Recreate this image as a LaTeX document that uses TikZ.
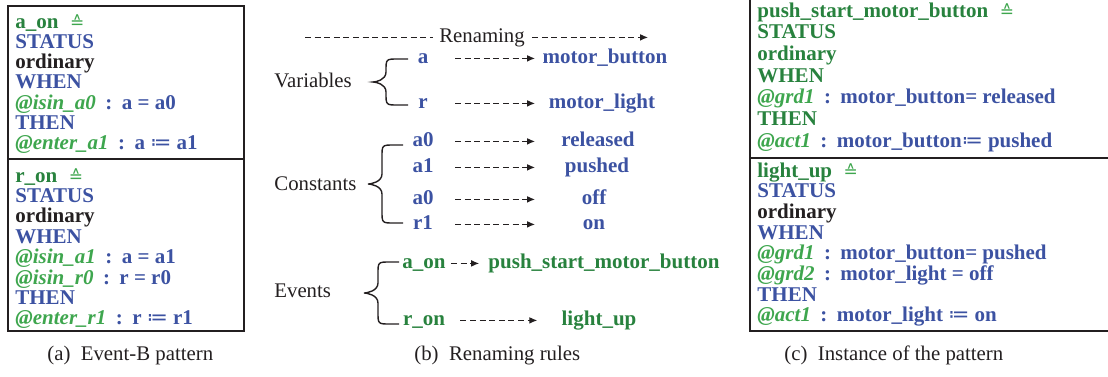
\documentclass[tikz,border=0pt]{standalone}
\usepackage{fontspec}
\setmainfont{Liberation Serif}
\newfontfamily\symfont{DejaVu Sans}
\usetikzlibrary{positioning,arrows.meta}

\definecolor{evgreen}{RGB}{40,130,62}
\definecolor{lblgreen}{RGB}{62,166,78}
\definecolor{kwblue}{RGB}{60,82,162}
\definecolor{inkblack}{RGB}{35,31,32}

\tikzset{BoxLine/.style={%
    draw=inkblack,%
    line width=0.8pt,%
}}
\tikzset{CodeLine/.style={%
    anchor=base west,%
    inner sep=0pt,%
    text=inkblack,%
    font=\fontsize{10.5}{12}\selectfont\bfseries,%
}}
\tikzset{VarName/.style={%
    anchor=base,%
    inner sep=0pt,%
    text=kwblue,%
    font=\fontsize{10.5}{12}\selectfont\bfseries,%
}}
\tikzset{EventName/.style={%
    VarName,%
    text=evgreen,%
}}
\tikzset{PlainText/.style={%
    inner sep=0pt,%
    text=inkblack,%
    font=\fontsize{10.4}{12}\selectfont,%
}}
\tikzset{RenameLine/.style={%
    draw=inkblack,%
    line width=0.5pt,%
    dash pattern=on 3pt off 1.8pt,%
}}
\tikzset{RenameArrow/.style={%
    RenameLine,%
    -{Latex[length=4pt,width=3.4pt]},%
}}

\newcommand{\kw}[1]{\textcolor{kwblue}{#1}}
\newcommand{\evname}[1]{\textcolor{evgreen}{#1}}
\newcommand{\defeq}{\hspace{.55em}{\color{lblgreen}\symfont\mdseries\fontsize{8.5}{8}\selectfont ≙}}
\newcommand{\guard}[1]{{\color{lblgreen}\itshape @#1}\hspace{.45em}\kw{:}\hspace{.45em}}
\newcommand{\becomes}{{\symfont\mdseries ≔}}
% one node per line of an event
\NewDocumentCommand{\eventBox}{m m m m m}{%
    \foreach \codeText [count=\k from 0] in {#5}{%
        \node[CodeLine] (#1\k) at (#2,{#3+#4*\k}) {\codeText};%
    }%
}
% curly bracket with flat tails
\NewDocumentCommand{\groupBrace}{m m m m m}{%
    \pgfmathsetmacro{\braceMid}{(#4+#5)/2}
    \draw[line width=0.7pt, inkblack]
        (#1,#4) -- ({#2+12},#4) .. controls (#2,#4) .. (#2,{#4+12})
        -- (#2,{\braceMid-10}) .. controls (#2,{\braceMid-2}) and ({#3+3},\braceMid) .. (#3,\braceMid)
        .. controls ({#3+3},\braceMid) and (#2,{\braceMid+2}) .. (#2,{\braceMid+10})
        -- (#2,{#5-12}) .. controls (#2,#5) .. ({#2+12},#5) -- (#1,#5);
}

\begin{document}
\begin{tikzpicture}[x=0.5pt,y=-0.5pt]
    \useasboundingbox (0,0) rectangle (1108,376);

    % (a) pattern
    \draw[BoxLine] (8,6) rectangle (244,331);
    \draw[BoxLine] (8,159) -- (244,159);
    \eventBox{aon}{15}{28}{20.33}{%
        {\evname{a\_on}\defeq},
        \kw{STATUS},
        ordinary,
        \kw{WHEN},
        {\guard{isin\_a0}\kw{a = a0}},
        \kw{THEN},
        {\guard{enter\_a1}\kw{a \becomes{} a1}}}
    \eventBox{ron}{15}{182}{20.4}{%
        {\evname{r\_on}\defeq},
        \kw{STATUS},
        ordinary,
        \kw{WHEN},
        {\guard{isin\_a1}\kw{a = a1}},
        {\guard{isin\_r0}\kw{r = r0}},
        \kw{THEN},
        {\guard{enter\_r1}\kw{r \becomes{} r1}}}

    % (b) renaming
    \node[PlainText, anchor=base] (ren) at (482,42) {Renaming};
    \coordinate (renStart) at (305,0);
    \coordinate (renEnd) at (648,0);
    \draw[RenameLine, shorten >=3pt] (ren.mid west -| renStart) -- (ren.mid west);
    \draw[RenameArrow, shorten <=3.5pt] (ren.mid east) -- (ren.mid east -| renEnd);

    \node[PlainText, anchor=base west] (vars) at (274,87) {Variables};
    \node[PlainText, anchor=base west] (consts) at (274,190) {Constants};
    \node[PlainText, anchor=base west] (evts) at (274,297) {Events};
    \groupBrace{408}{386}{373}{59}{105}
    \groupBrace{403}{382}{368}{145}{223}
    \groupBrace{399}{378}{364}{262}{324}

    \node[VarName] (srcA) at (423,63) {a};
    \node[VarName] (dstA) at (605,63) {motor\_button};
    \node[VarName] (srcR) at (423,108) {r};
    \node[VarName] (dstR) at (602,108) {motor\_light};
    \node[VarName] (srcAz) at (423,146) {a0};
    \node[VarName] (dstAz) at (598,146) {released};
    \node[VarName] (srcAo) at (423,172) {a1};
    \node[VarName] (dstAo) at (597,172) {pushed};
    \node[VarName] (srcRz) at (423,204) {a0};
    \node[VarName] (dstRz) at (594,204) {off};
    \node[VarName] (srcRo) at (423,229) {r1};
    \node[VarName] (dstRo) at (594,229) {on};
    \node[EventName] (srcEa) at (424,268) {a\_on};
    \node[EventName] (dstEa) at (604,268) {push\_start\_motor\_button};
    \node[EventName] (srcEr) at (424,325) {r\_on};
    \node[EventName] (dstEr) at (599,325) {light\_up};

    \coordinate (arrL) at (455,0);
    \coordinate (arrR) at (535,0);
    \foreach \src/\dst in {srcA/dstA, srcR/dstR, srcAz/dstAz, srcAo/dstAo, srcRz/dstRz, srcRo/dstRo}{
        \draw[RenameArrow] (\src.mid -| arrL) -- (\dst.mid -| arrR);
    }
    \draw[RenameArrow, shorten <=2.5pt, shorten >=4.5pt] (srcEa.mid east) -- (dstEa.mid west);
    \draw[RenameArrow, shorten <=7.5pt, shorten >=12pt] (srcEr.mid east) -- (dstEr.mid west);

    % (c) instance
    \draw[BoxLine] (1120,-10) -| (750,331) -- (1120,331);
    \draw[BoxLine] (750,158) -- (1120,158);
    \eventBox{push}{757}{17}{21.67}{%
        {\evname{push\_start\_motor\_button}\defeq},
        \evname{STATUS},
        \evname{ordinary},
        \evname{WHEN},
        {\guard{grd1}\kw{motor\_button= released}},
        \evname{THEN},
        {\guard{act1}\kw{motor\_button\becomes{} pushed}}}
    \eventBox{light}{757}{177}{20.7}{%
        {\evname{light\_up}\defeq},
        \kw{STATUS},
        ordinary,
        \kw{WHEN},
        {\guard{grd1}\kw{motor\_button= pushed}},
        {\guard{grd2}\kw{motor\_light = off}},
        \kw{THEN},
        {\guard{act1}\kw{motor\_light \becomes{} on}}}

    % captions
    \node[PlainText, anchor=base west] (capA) at (47,360) {(a)\enspace Event-B pattern};
    \node[PlainText, anchor=base west] (capB) at (414,360) {(b)\enspace Renaming rules};
    \node[PlainText, anchor=base west] (capC) at (784,360) {(c)\enspace Instance of the pattern};
\end{tikzpicture}
\end{document}
